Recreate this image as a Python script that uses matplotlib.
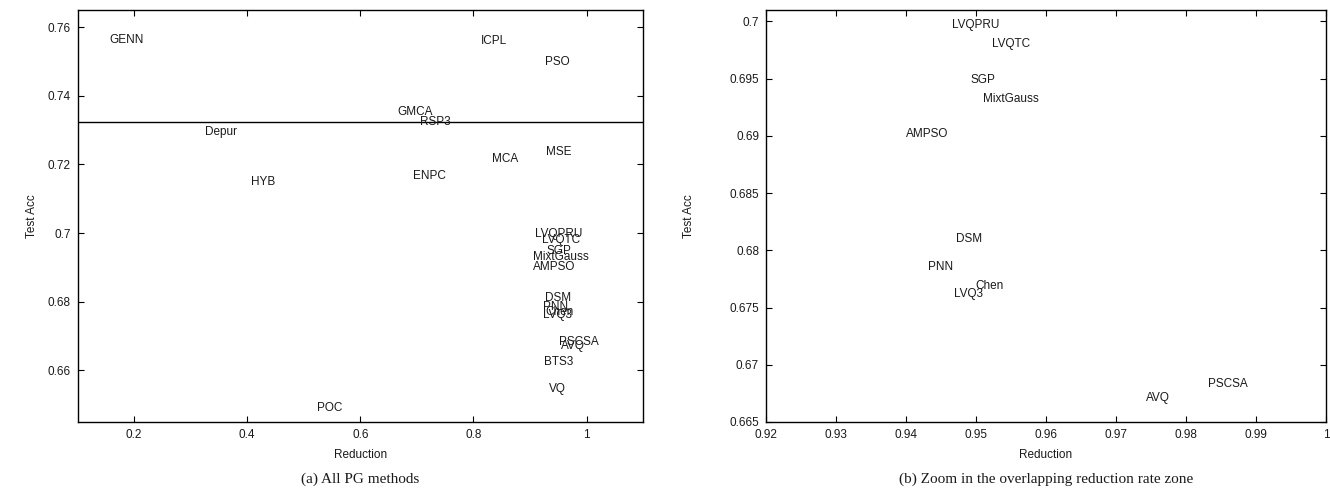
import matplotlib
matplotlib.use("Agg")
import matplotlib.pyplot as plt
from matplotlib.ticker import FixedLocator, FuncFormatter

methods = ['GENN', 'ICPL', 'PSO', 'GMCA', 'RSP3', 'Depur', 'MSE', 'MCA', 'ENPC', 'HYB',
           'LVQPRU', 'LVQTC', 'SGP', 'MixtGauss', 'AMPSO', 'DSM', 'PNN', 'Chen', 'LVQ3',
           'PSCSA', 'AVQ', 'BTS3', 'VQ', 'POC']
reduction = [0.187, 0.836, 0.948, 0.697, 0.733, 0.353, 0.951, 0.856, 0.722, 0.428,
             0.950, 0.955, 0.951, 0.955, 0.943, 0.949, 0.945, 0.952, 0.949,
             0.986, 0.976, 0.951, 0.949, 0.546]
test_acc = [0.7563, 0.7560, 0.7499, 0.7352, 0.7323, 0.7294, 0.7235, 0.7217, 0.7166, 0.7150,
            0.6997, 0.6980, 0.6949, 0.6932, 0.6902, 0.6810, 0.6785, 0.6769, 0.6762,
            0.6683, 0.6671, 0.6626, 0.6547, 0.6491]
baseline_acc = 0.7325

left_xticks = [0.2, 0.4, 0.6, 0.8, 1.0]
left_yticks = [0.66, 0.68, 0.70, 0.72, 0.74, 0.76]
right_xticks = [0.92, 0.93, 0.94, 0.95, 0.96, 0.97, 0.98, 0.99, 1.0]
right_yticks = [0.665, 0.67, 0.675, 0.68, 0.685, 0.69, 0.695, 0.70]
captions = ['(a) All PG methods', '(b) Zoom in the overlapping reduction rate zone']

SANS = ['Liberation Sans', 'DejaVu Sans']
SERIF = ['Liberation Serif', 'DejaVu Serif']
FS = 8.5
TXT = '#1a1a1a'

fig = plt.figure(figsize=(13.3, 4.95), dpi=100)
axL = fig.add_axes([0.0583, 0.1475, 0.4252, 0.8323])
axR = fig.add_axes([0.5759, 0.1475, 0.4211, 0.8323])

fmt = FuncFormatter(lambda v, p: '%g' % round(v, 4))

def style(ax, xlim, ylim, xt, yt, ylab_x, caption):
    ax.set_xlim(*xlim)
    ax.set_ylim(*ylim)
    ax.xaxis.set_major_locator(FixedLocator(xt))
    ax.yaxis.set_major_locator(FixedLocator(yt))
    ax.xaxis.set_major_formatter(fmt)
    ax.yaxis.set_major_formatter(fmt)
    ax.tick_params(direction='in', top=True, right=True, length=4, width=0.8,
                   labelsize=FS, colors='black', labelcolor=TXT, pad=5)
    for lab in ax.get_xticklabels() + ax.get_yticklabels():
        lab.set_family(SANS)
    for s in ax.spines.values():
        s.set_linewidth(1.0)
        s.set_color('black')
    ax.set_xlabel('Reduction', fontsize=FS, family=SANS, color=TXT)
    ax.set_ylabel('Test Acc', fontsize=FS, family=SANS, color=TXT)
    ax.xaxis.set_label_coords(0.5, -0.066)
    ax.yaxis.set_label_coords(ylab_x, 0.5)
    ax.text(0.5, -0.14, caption, transform=ax.transAxes, ha='center', va='center',
            fontsize=11, family=SERIF, color=TXT)
    for name, x, y in zip(methods, reduction, test_acc):
        ax.text(x, y, name, ha='center', va='center', fontsize=FS, family=SANS,
                color=TXT, clip_on=True)

style(axL, (0.1, 1.1), (0.645, 0.765), left_xticks, left_yticks, -0.070, captions[0])
axL.axhline(baseline_acc, color='black', lw=1.0)
style(axR, (0.92, 1.0), (0.665, 0.701), right_xticks, right_yticks, -0.127, captions[1])

fig.savefig('out.png', dpi=100)
